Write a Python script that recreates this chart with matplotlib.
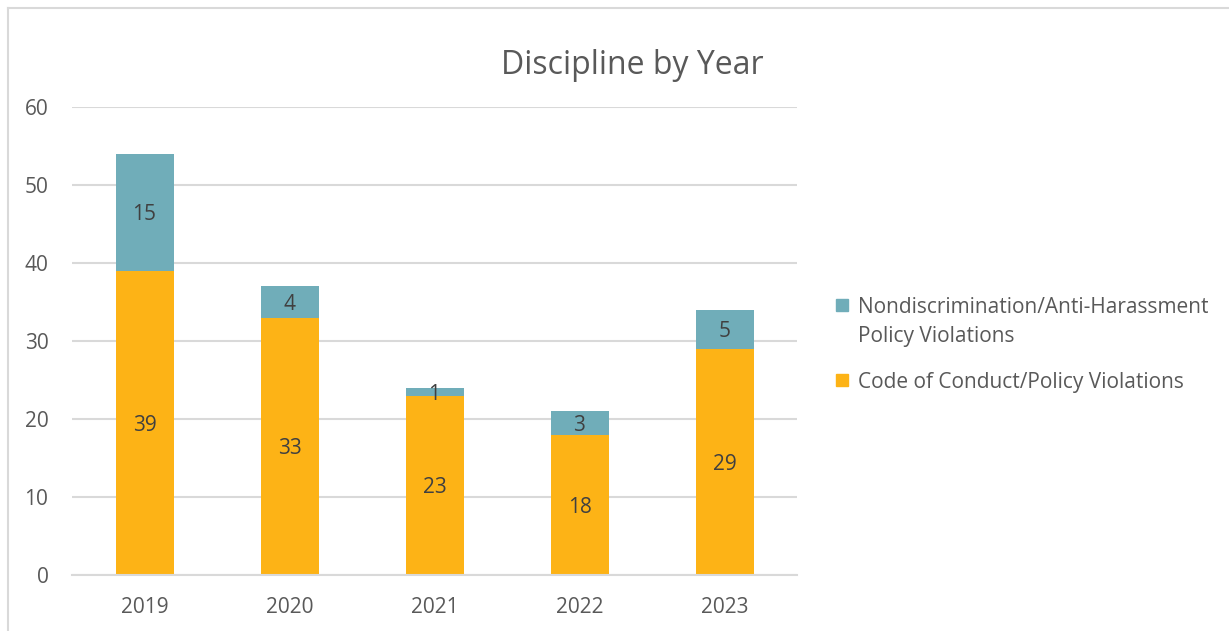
import matplotlib.pyplot as plt
from matplotlib.patches import Rectangle
from matplotlib.lines import Line2D

years = ['2019', '2020', '2021', '2022', '2023']
conduct = [39, 33, 23, 18, 29]
nondisc = [15, 4, 1, 3, 5]
legend_labels = ['Nondiscrimination/Anti-Harassment\nPolicy Violations',
                 'Code of Conduct/Policy Violations']

teal = '#70ADB9'
orange = '#FDB316'
grey_text = '#595959'
label_text = '#404040'
grid = '#D9D9D9'

plt.rcParams['font.family'] = ['Open Sans', 'DejaVu Sans']

W, H = 1229, 631
fig = plt.figure(figsize=(W / 100, H / 100), dpi=100)
ax = fig.add_axes([72 / W, 1 - 575 / H, 725 / W, 468 / H])

x = list(range(len(years)))
ax.bar(x, conduct, width=0.4, color=orange, zorder=2)
ax.bar(x, nondisc, width=0.4, bottom=conduct, color=teal, zorder=2)

for i in x:
    ax.text(i, conduct[i] / 2, str(conduct[i]), ha='center', va='center_baseline',
            fontsize=15, color=label_text, zorder=3)
    ax.text(i, conduct[i] + nondisc[i] / 2, str(nondisc[i]), ha='center',
            va='center_baseline', fontsize=15, color=label_text, zorder=3)

ax.set_xlim(-0.5, 4.5)
ax.set_ylim(0, 60)
ax.set_yticks(range(0, 61, 10))
ax.set_xticks(x)
ax.set_xticklabels(years)
ax.yaxis.grid(True, color=grid, linewidth=1.5, zorder=0)
ax.set_axisbelow(True)
for s in ['top', 'right', 'left']:
    ax.spines[s].set_visible(False)
ax.spines['bottom'].set_color(grid)
ax.spines['bottom'].set_linewidth(1.5)
ax.tick_params(axis='both', length=0, labelsize=15, colors=grey_text)
ax.tick_params(axis='y', pad=17)
ax.tick_params(axis='x', pad=16)

fig.text(632 / W, 1 - 66 / H, 'Discipline by Year', ha='center', va='center',
         fontsize=23, color=grey_text)

# legend drawn by hand so the swatch sits on the first text line, like Excel
for lab, col, ypx in zip(legend_labels, [teal, orange], [305, 380]):
    fig.add_artist(Rectangle((836 / W, 1 - (ypx + 6) / H), 12 / W, 12 / H,
                             transform=fig.transFigure, color=col))
    for k, line in enumerate(lab.split('\n')):
        fig.text(858 / W, 1 - (ypx + 29 * k) / H, line, ha='left',
                 va='center_baseline', fontsize=15, color=grey_text)

# outer chart frame (only top and left edges visible)
fig.add_artist(Line2D([8 / W, 1], [1 - 8 / H, 1 - 8 / H], color=grid, linewidth=1.5))
fig.add_artist(Line2D([8 / W, 8 / W], [0, 1 - 8 / H], color=grid, linewidth=1.5))

fig.savefig('out.png', dpi=100)
